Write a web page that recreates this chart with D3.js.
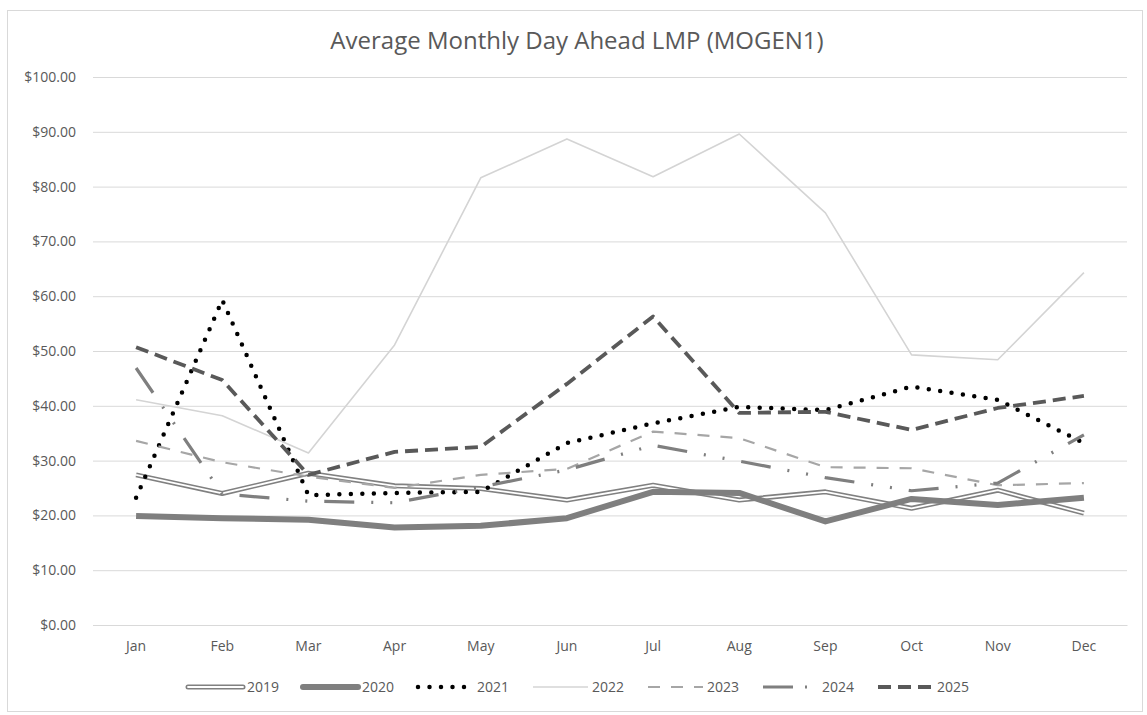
<!doctype html>
<head>
  <meta charset="utf-8">
  <script src="https://d3js.org/d3.v7.min.js"></script>
  <style>
    body { margin: 0; background: #fff; }
    text { font-family: "Open Sans", sans-serif; fill: #595959; }
  </style>
</head>
<body>
<div id="viz"></div>
<script>

var months = ['Jan', 'Feb', 'Mar', 'Apr', 'May', 'Jun', 'Jul', 'Aug', 'Sep', 'Oct', 'Nov', 'Dec']
var yTicks = [0, 10, 20, 30, 40, 50, 60, 70, 80, 90, 100]

var v2019 = [27.4, 24.0, 27.7, 25.4, 24.9, 22.8, 25.5, 22.8, 24.3, 21.3, 24.6, 20.4]
var v2020 = [19.9, 19.5, 19.2, 17.8, 18.1, 19.5, 24.3, 24.1, 18.9, 23.0, 21.9, 23.2]
var v2021 = [23.2, 59.3, 23.7, 24.1, 24.3, 33.2, 36.8, 39.8, 39.2, 43.5, 41.1, 33.2]
var v2022 = [41.1, 38.2, 31.4, 51.1, 81.6, 88.7, 81.8, 89.6, 75.2, 49.3, 48.4, 64.3]
var v2023 = [33.6, 29.7, 27.1, 25.0, 27.4, 28.5, 35.3, 34.1, 28.8, 28.6, 25.5, 25.9]
var v2024 = [46.9, 23.9, 22.6, 22.3, 25.2, 28.3, 32.8, 29.9, 26.9, 24.5, 25.9, 34.7]
var v2025 = [50.7, 44.7, 27.4, 31.6, 32.5, 44.0, 56.3, 38.7, 38.9, 35.6, 39.6, 41.8]

// line styles per year (drawn in this order, 2025 on top)
var series = [
  { name: '2019', values: v2019, strokes: [{ c: '#808080', w: 5 }, { c: '#ffffff', w: 1.8 }] },
  { name: '2020', values: v2020, strokes: [{ c: '#7f7f7f', w: 6 }] },
  { name: '2021', values: v2021, strokes: [{ c: '#000000', w: 4.5, dash: '0,11.5', cap: 'round' }] },
  { name: '2022', values: v2022, strokes: [{ c: '#d4d4d4', w: 1.6 }] },
  { name: '2023', values: v2023, strokes: [{ c: '#a6a6a6', w: 2.2, dash: '12,11' }] },
  { name: '2024', values: v2024, strokes: [{ c: '#7f7f7f', w: 3.2, dash: '30,17,2,17,2,17' }] },
  { name: '2025', values: v2025, strokes: [{ c: '#595959', w: 3.8, dash: '13,7' }] }
]

var W = 1147, H = 715

var svg = d3.select('#viz').append('svg')
  .attr('width', W)
  .attr('height', H)

svg.append('rect')
  .attr('x', 7.5).attr('y', 10.5)
  .attr('width', 1135).attr('height', 701)
  .style('fill', '#fff')
  .style('stroke', '#d9d9d9')

var x = d3.scaleBand().domain(months).range([93, 1127])
var y = d3.scaleLinear().domain([0, 100]).range([625, 77])

var cx = function(m) { return x(m) + x.bandwidth() / 2 }

svg.append('text')
  .attr('x', 577).attr('y', 49)
  .attr('text-anchor', 'middle')
  .style('font-size', '24px')
  .text('Average Monthly Day Ahead LMP (MOGEN1)')

// y axis + gridlines
var yAxis = svg.append('g')
  .attr('transform', 'translate(93,0)')
  .call(d3.axisLeft(y).tickValues(yTicks).tickFormat(d3.format('$.2f'))
    .tickSize(-(1127 - 93)).tickPadding(17))
yAxis.select('.domain').remove()
yAxis.selectAll('line').style('stroke', '#d9d9d9')
yAxis.selectAll('text').style('font-size', '14px').style('fill', '#595959')

// x axis
var xAxis = svg.append('g')
  .attr('transform', 'translate(0,625)')
  .call(d3.axisBottom(x).tickSize(0).tickPadding(16))
xAxis.select('.domain').style('stroke', '#d9d9d9')
xAxis.selectAll('text').style('font-size', '14px').style('fill', '#595959')

var line = d3.line()
  .x(function(d, i) { return cx(months[i]) })
  .y(function(d) { return y(d) })

series.forEach(function(s) {
  s.strokes.forEach(function(st) {
    svg.append('path')
      .datum(s.values)
      .attr('d', line)
      .style('fill', 'none')
      .style('stroke', st.c)
      .style('stroke-width', st.w)
      .style('stroke-dasharray', st.dash || null)
      .style('stroke-linecap', st.cap || 'butt')
      .style('stroke-linejoin', 'round')
  })
})

// legend
var legend = svg.append('g')
var lx = 188
series.forEach(function(s, i) {
  var gx = lx + i * 115
  s.strokes.forEach(function(st) {
    legend.append('line')
      .attr('x1', gx).attr('x2', gx + 55)
      .attr('y1', 687).attr('y2', 687)
      .style('stroke', st.c)
      .style('stroke-width', st.w)
      .style('stroke-dasharray', st.dash ? (s.name == '2024' ? '30,12,2,12' : st.dash) : null)
      .style('stroke-linecap', st.cap || (s.name == '2019' || s.name == '2020' ? 'round' : 'butt'))
  })
  legend.append('text')
    .attr('x', gx + 59).attr('y', 692)
    .style('font-size', '14px')
    .text(s.name)
})

</script>
</body>
